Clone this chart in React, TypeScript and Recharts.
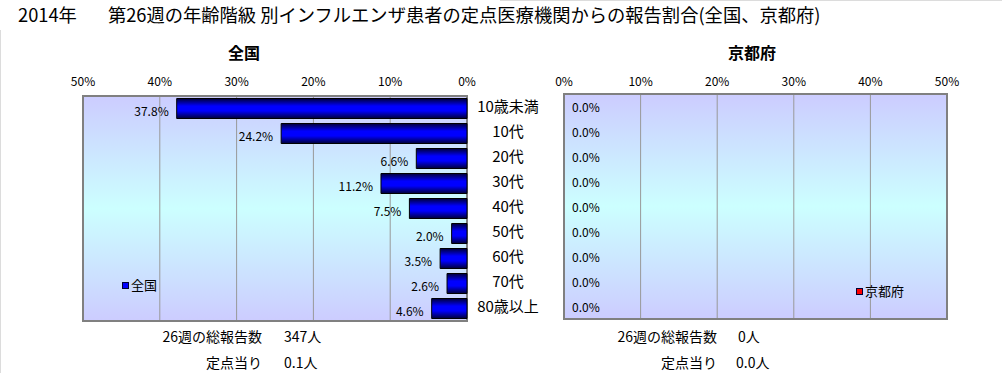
import { BarChart, Bar, XAxis, YAxis, CartesianGrid, ReferenceArea, LabelList, Legend } from "recharts"

const FONT = '"Noto Sans CJK JP", "Noto Sans", sans-serif'

const ageGroups = ["10歳未満", "10代", "20代", "30代", "40代", "50代", "60代", "70代", "80歳以上"]
const nationalShare = [37.8, 24.2, 6.6, 11.2, 7.5, 2.0, 3.5, 2.6, 4.6]
const kyotoShare = [0, 0, 0, 0, 0, 0, 0, 0, 0]
const percentTicks = [0, 10, 20, 30, 40, 50]

const week = 26
const nationalTotal = 347
const nationalPerSite = "0.1"
const kyotoTotal = 0
const kyotoPerSite = "0.0"

const rows = ageGroups.map((age, i) => ({
  age,
  national: nationalShare[i],
  kyoto: kyotoShare[i],
}))

const pct = (v: number) => `${v}%`

function CategoryTick(props: any) {
  const { x, y, payload } = props
  return (
    <text
      x={Number(x) + 41}
      y={Number(y) - 3}
      textAnchor="middle"
      dominantBaseline="central"
      fontSize={15}
      fontFamily={FONT}
      fill="#000"
    >
      {payload.value}
    </text>
  )
}

// zero-length bars get no labels, so the kyoto values ride on the category axis
function KyotoTick(props: any) {
  const { x, y, index } = props
  return (
    <text x={Number(x) + 8} y={Number(y)} textAnchor="start" dominantBaseline="central" fontSize={12} fontFamily={FONT} fill="#000">
      {kyotoShare[index].toFixed(1)}%
    </text>
  )
}

function NationalLabel(props: any) {
  const x = Number(props.x)
  const w = Number(props.width)
  const y = Number(props.y) + Number(props.height) / 2
  return (
    <text x={Math.min(x, x + w) - 8} y={y + 2} textAnchor="end" dominantBaseline="central" fontSize={12} fontFamily={FONT} fill="#000">
      {Number(props.value).toFixed(1)}%
    </text>
  )
}

function LegendBox({ label, color }: { label: string; color: string }) {
  return (
    <div style={{ display: "flex", alignItems: "center", fontSize: 13, fontFamily: FONT, lineHeight: "16px", whiteSpace: "nowrap" }}>
      <span style={{ display: "inline-block", width: 5, height: 5, background: color, border: "1px solid #000033", marginRight: 2 }} />
      {label}
    </div>
  )
}

function Gradients({ id, dark, bright }: { id: string; dark: string; bright: string }) {
  return (
    <defs>
      <linearGradient id={`bg-${id}`} x1="0" y1="0" x2="0" y2="1">
        <stop offset="0" stopColor="#ccccff" />
        <stop offset="0.5" stopColor="#ccffff" />
        <stop offset="1" stopColor="#ccccff" />
      </linearGradient>
      <linearGradient id={`bar-${id}`} x1="0" y1="0" x2="0" y2="1">
        <stop offset="0" stopColor={dark} />
        <stop offset="0.38" stopColor={bright} />
        <stop offset="0.62" stopColor={bright} />
        <stop offset="1" stopColor={dark} />
      </linearGradient>
    </defs>
  )
}

const tickStyle = { fontSize: 12, fill: "#000", fontFamily: FONT }

export default function App() {
  return (
    <div style={{ position: "absolute", left: 0, top: 0, width: 1006, height: 373, background: "#fff", fontFamily: FONT, overflow: "hidden" }}>
      <div style={{ position: "absolute", left: 0, top: 30, bottom: 0, borderLeft: "1px solid #dcdcdc" }} />
      <div style={{ position: "absolute", left: 500, right: 4, top: 0, borderTop: "1px solid #dcdcdc" }} />

      <div style={{ position: "absolute", left: 18, top: 3, fontSize: 18.3, lineHeight: "22px", whiteSpace: "nowrap" }}>
        2014年
        <span style={{ marginLeft: 31 }}>第{week}週の年齢階級 別インフルエンザ患者の定点医療機関からの報告割合(全国、京都府)</span>
      </div>

      <div style={{ position: "absolute", left: 194, width: 100, top: 41, textAlign: "center", fontSize: 16, fontWeight: "bold", lineHeight: "22px" }}>全国</div>
      <div style={{ position: "absolute", left: 702, width: 100, top: 41, textAlign: "center", fontSize: 16, fontWeight: "bold", lineHeight: "22px" }}>京都府</div>

      <div style={{ position: "absolute", left: 0, top: 0 }}>
        <BarChart width={548} height={373} data={rows} layout="vertical" margin={{ top: 66, right: 0, bottom: 52, left: 83 }} barCategoryGap="10%">
          <Gradients id="jp" dark="#000038" bright="#0000ff" />
          <CartesianGrid horizontal={false} stroke="#999999" fill="url(#bg-jp)" fillOpacity={1} />
          <XAxis
            type="number"
            domain={[0, 50]}
            reversed
            ticks={percentTicks}
            interval={0}
            orientation="top"
            height={30}
            axisLine={false}
            tickLine={false}
            tickSize={0}
            tickMargin={10}
            tickFormatter={pct}
            tick={tickStyle}
          />
          <YAxis
            type="category"
            dataKey="age"
            orientation="right"
            width={81}
            axisLine={false}
            tickLine={false}
            tickSize={0}
            tickMargin={0}
            interval={0}
            tick={<CategoryTick />}
          />
          <ReferenceArea x1={0} x2={50} fill="none" stroke="#808080" strokeWidth={2} ifOverflow="visible" />
          <Bar dataKey="national" name="全国" fill="url(#bar-jp)" stroke="#000" strokeWidth={1} isAnimationActive={false}>
            <LabelList dataKey="national" content={<NationalLabel />} />
          </Bar>
          <Legend
            layout="horizontal"
            align="center"
            verticalAlign="middle"
            wrapperStyle={{ left: 122, top: 277, width: "auto", height: "auto" }}
            content={() => <LegendBox label="全国" color="#0000ff" />}
          />
        </BarChart>
      </div>

      <div style={{ position: "absolute", left: 548, top: 0 }}>
        <BarChart width={458} height={373} data={rows} layout="vertical" margin={{ top: 64, right: 59, bottom: 54, left: 0 }} barCategoryGap="10%">
          <Gradients id="kyoto" dark="#380000" bright="#ff0000" />
          <CartesianGrid horizontal={false} stroke="#999999" fill="url(#bg-kyoto)" fillOpacity={1} />
          <XAxis
            type="number"
            domain={[0, 50]}
            ticks={percentTicks}
            interval={0}
            orientation="top"
            height={30}
            axisLine={false}
            tickLine={false}
            tickSize={0}
            tickMargin={8}
            tickFormatter={pct}
            tick={tickStyle}
          />
          <YAxis
            type="category"
            dataKey="age"
            orientation="left"
            width={16}
            axisLine={false}
            tickLine={false}
            tickSize={0}
            tickMargin={0}
            interval={0}
            tick={<KyotoTick />}
          />
          <ReferenceArea x1={0} x2={50} fill="none" stroke="#808080" strokeWidth={2} ifOverflow="visible" />
          <Bar dataKey="kyoto" name="京都府" fill="url(#bar-kyoto)" stroke="#000" strokeWidth={1} isAnimationActive={false} />
          <Legend
            layout="horizontal"
            align="center"
            verticalAlign="middle"
            wrapperStyle={{ left: 308, top: 283, width: "auto", height: "auto" }}
            content={() => <LegendBox label="京都府" color="#ff0000" />}
          />
        </BarChart>
      </div>

      <div style={{ position: "absolute", left: 100, width: 162, top: 326, textAlign: "right", fontSize: 14, lineHeight: "20px" }}>{week}週の総報告数</div>
      <div style={{ position: "absolute", left: 284, top: 326, fontSize: 14, lineHeight: "20px" }}>{nationalTotal}人</div>
      <div style={{ position: "absolute", left: 100, width: 162, top: 352, textAlign: "right", fontSize: 14, lineHeight: "20px" }}>定点当り</div>
      <div style={{ position: "absolute", left: 284, top: 352, fontSize: 14, lineHeight: "20px" }}>{nationalPerSite}人</div>

      <div style={{ position: "absolute", left: 555, width: 162, top: 326, textAlign: "right", fontSize: 14, lineHeight: "20px" }}>{week}週の総報告数</div>
      <div style={{ position: "absolute", left: 738, top: 326, fontSize: 14, lineHeight: "20px" }}>{kyotoTotal}人</div>
      <div style={{ position: "absolute", left: 555, width: 162, top: 352, textAlign: "right", fontSize: 14, lineHeight: "20px" }}>定点当り</div>
      <div style={{ position: "absolute", left: 736, top: 352, fontSize: 14, lineHeight: "20px" }}>{kyotoPerSite}人</div>
    </div>
  )
}
